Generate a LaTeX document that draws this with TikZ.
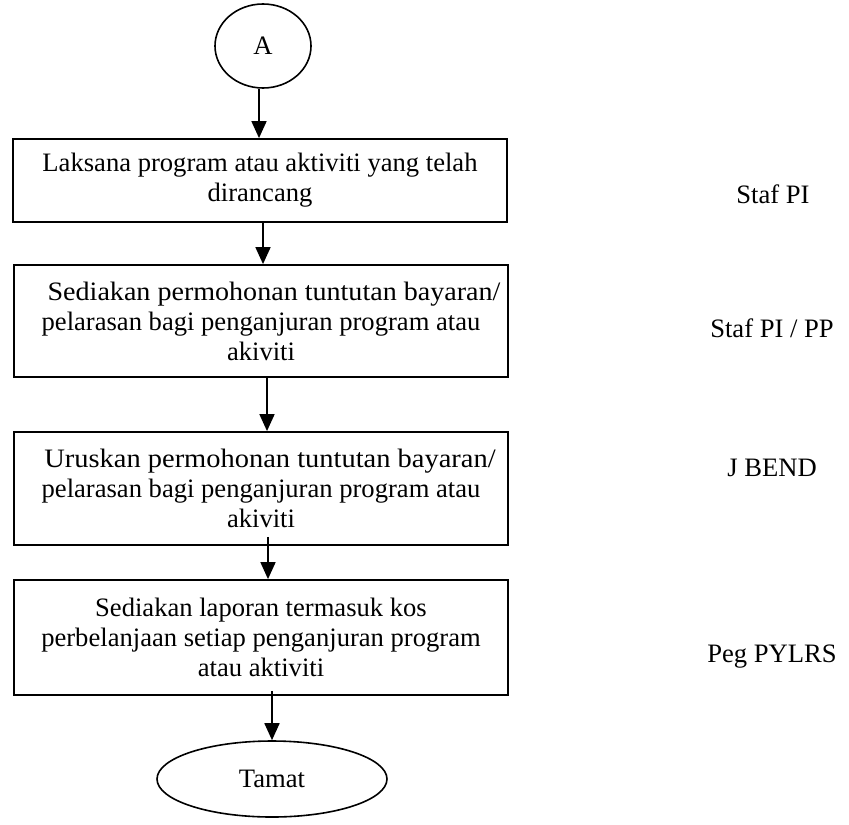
\documentclass[tikz,border=0pt]{standalone}
\usepackage{fontspec}
\usepackage{graphicx}
\setmainfont{Liberation Serif}
\usetikzlibrary{shapes.geometric,arrows.meta,calc}
\begin{document}
\begin{tikzpicture}[x=0.5pt,y=-0.5pt,
  txt/.style={font=\fontsize{13.3}{15}\selectfont, align=center, inner sep=0pt},
  stepbox/.style={draw, line width=0.9pt, rectangle, txt, minimum width=247pt},
  term/.style={draw, line width=0.8pt, ellipse, txt},
  arr/.style={line width=0.85pt, -{Triangle[width=7.5pt,length=8.5pt]}},
  role/.style={txt}]
\useasboundingbox (0,0) rectangle (849,824);
\node[term, minimum width=48pt, minimum height=42pt] (A) at (263,46) {A};
\node[stepbox, minimum height=41.5pt] (b1) at (260,180.5) {Laksana program atau aktiviti yang telah\\dirancang};
\node[stepbox, minimum height=56pt] (b2) at (261,321) {\hspace*{13pt}\scalebox{1.055}[1]{Sediakan permohonan tuntutan bayaran/}\\pelarasan bagi penganjuran program atau\\akiviti};
\node[stepbox, minimum height=56.5pt] (b3) at (261,488.5) {\hspace*{9pt}\scalebox{1.07}[1]{Uruskan permohonan tuntutan bayaran/}\\pelarasan bagi penganjuran program atau\\akiviti};
\node[stepbox, minimum height=57.5pt] (b4) at (261,637.5) {Sediakan laporan termasuk kos\\perbelanjaan setiap penganjuran program\\atau aktiviti};
\node[term, minimum width=115pt, minimum height=38pt] (T) at (272,779) {Tamat};
\node[role] (r1) at (773,194) {Staf PI};
\node[role] (r2) at (772,328) {Staf PI / PP};
\node[role] (r3) at (772,468) {J BEND};
\node[role] (r4) at (772,657) {Peg PYLRS};
\draw[arr] ([xshift=-2pt]A.south) -- ([xshift=-2pt]A.south |- b1.north);
\draw[arr] ([xshift=1.5pt]b1.south) -- ([xshift=1.5pt]b1.south |- b2.north);
\draw[arr] ([xshift=3pt]b2.south) -- ([xshift=3pt]b2.south |- b3.north);
\draw[arr] ([xshift=3.5pt,yshift=4.5pt]b3.south) -- ([xshift=3.5pt]b3.south |- b4.north);
\draw[arr] ([yshift=2.5pt]b4.south -| T.north) -- (T.north);
\end{tikzpicture}
\end{document}
